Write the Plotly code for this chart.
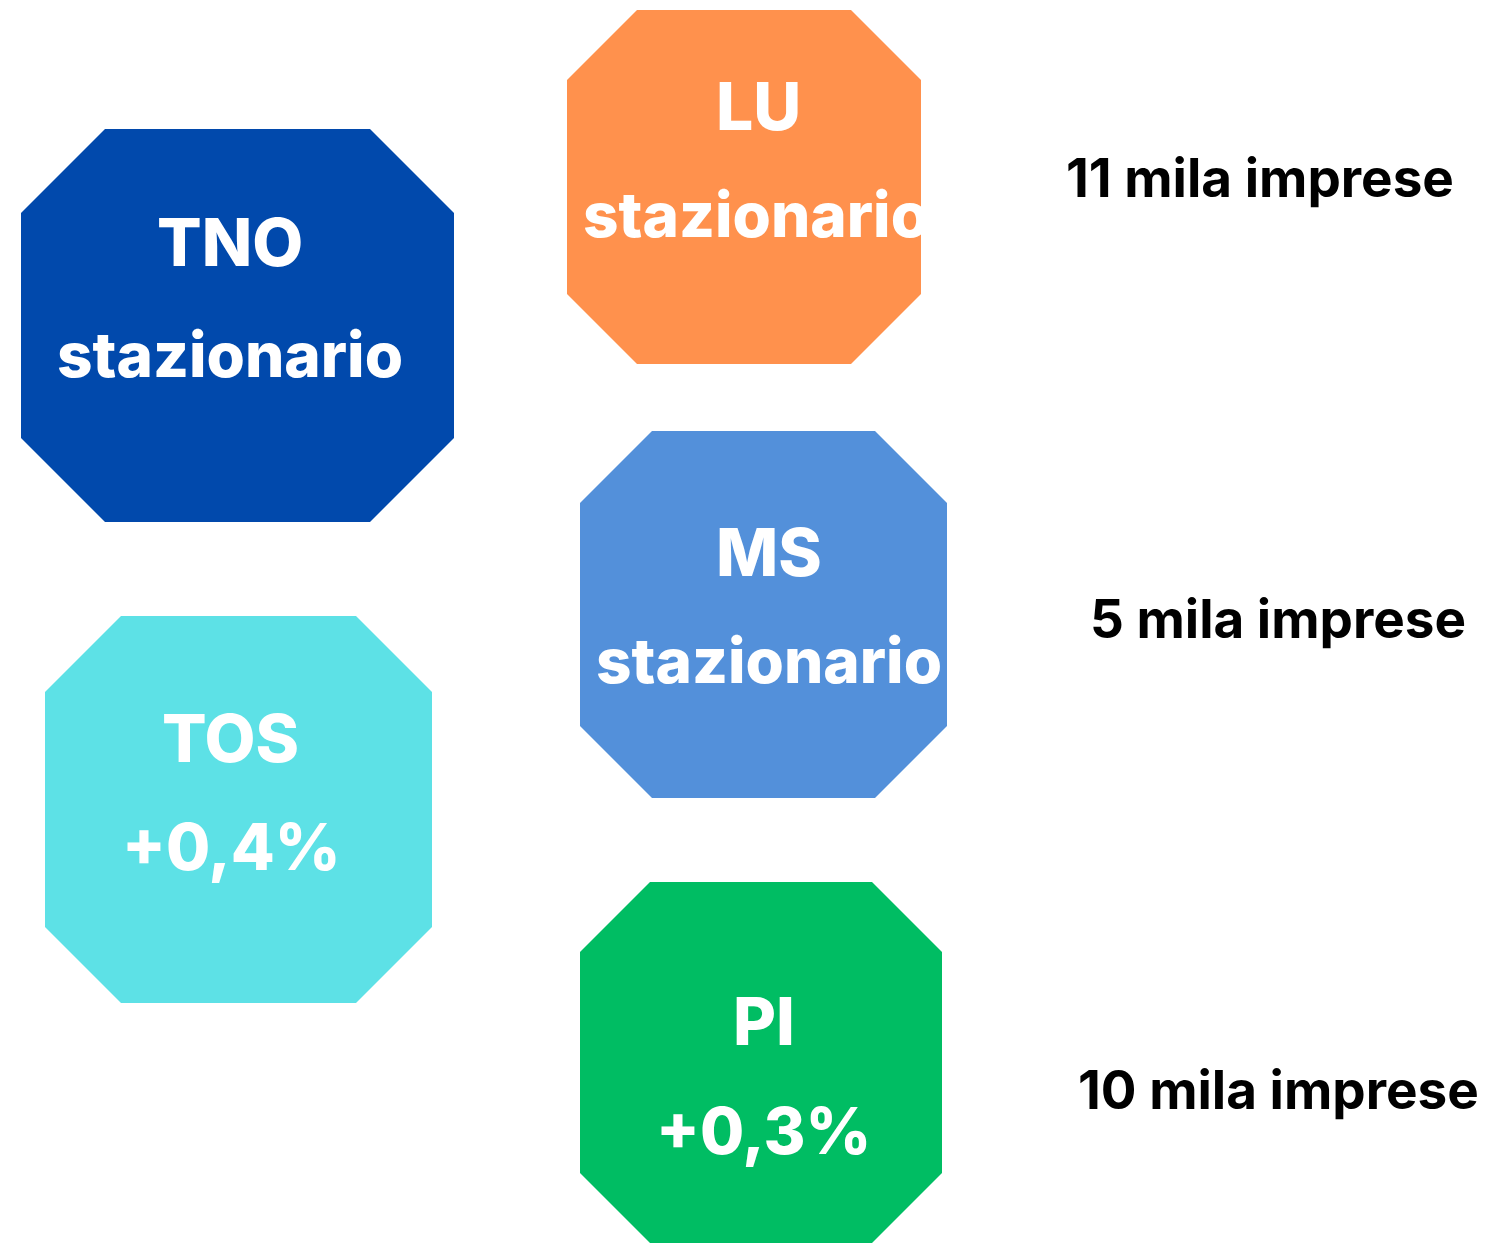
import plotly.graph_objects as go

# ---- data ----
province = ["TNO", "LU", "MS", "TOS", "PI"]
variazione = ["stazionario", "stazionario", "stazionario", "+0,4%", "+0,3%"]
imprese_mila = [11, 5, 10]
imprese_label = [f"{v} mila imprese" for v in imprese_mila]

# ---- styles / layout (pixel space) ----
colors = ["#0149AC", "#FF914D", "#5390DA", "#5DE1E6", "#00BD63"]
# left, top, right, bottom, corner cut
boxes = [
    (21, 129, 454, 522, 84),
    (567, 10, 921, 364, 70),
    (580, 431, 947, 798, 72),
    (45, 616, 432, 1003, 76),
    (580, 882, 942, 1243, 70),
]
title_pos = [(230, 242), (758, 106), (769, 552), (230, 738), (764, 1021)]
sub_pos = [(230, 354), (756, 214), (769, 660), (231, 846), (763, 1130)]
imprese_pos = [(1260, 178), (1278, 619), (1278, 1090)]

W, H = 1495, 1244
OFF = 8  # page offset of the plot in the browser
FONT = "Inter"

fig = go.Figure()

for (l, t, r, b, c), col in zip(boxes, colors):
    xs = [l + c, r - c, r, r, r - c, l + c, l, l, l + c]
    ys = [t, t, t + c, b - c, b, b, b - c, t + c, t]
    fig.add_trace(go.Scatter(x=xs, y=ys, mode="lines", fill="toself",
                             fillcolor=col, line=dict(width=0, color=col),
                             hoverinfo="skip", showlegend=False))

for name, (x, y) in zip(province, title_pos):
    fig.add_annotation(x=x, y=y, text=name, showarrow=False,
                       xanchor="center", yanchor="middle",
                       font=dict(family=FONT, size=66, color="white", weight=800))

for txt, (x, y) in zip(variazione, sub_pos):
    fig.add_annotation(x=x, y=y, text=txt, showarrow=False,
                       xanchor="center", yanchor="middle",
                       font=dict(family=FONT, size=62 if txt == "stazionario" else 64,
                                 color="white", weight=800))

for txt, (x, y) in zip(imprese_label, imprese_pos):
    fig.add_annotation(x=x, y=y, text=txt, showarrow=False,
                       xanchor="center", yanchor="middle",
                       font=dict(family=FONT, size=53, color="black", weight=700))

fig.update_xaxes(range=[OFF, W + OFF], visible=False, fixedrange=True)
fig.update_yaxes(range=[H + OFF, OFF], visible=False, fixedrange=True)
fig.update_layout(width=W, height=H, margin=dict(l=0, r=0, t=0, b=0),
                  plot_bgcolor="white", paper_bgcolor="white")

fig.write_html("out.html")
